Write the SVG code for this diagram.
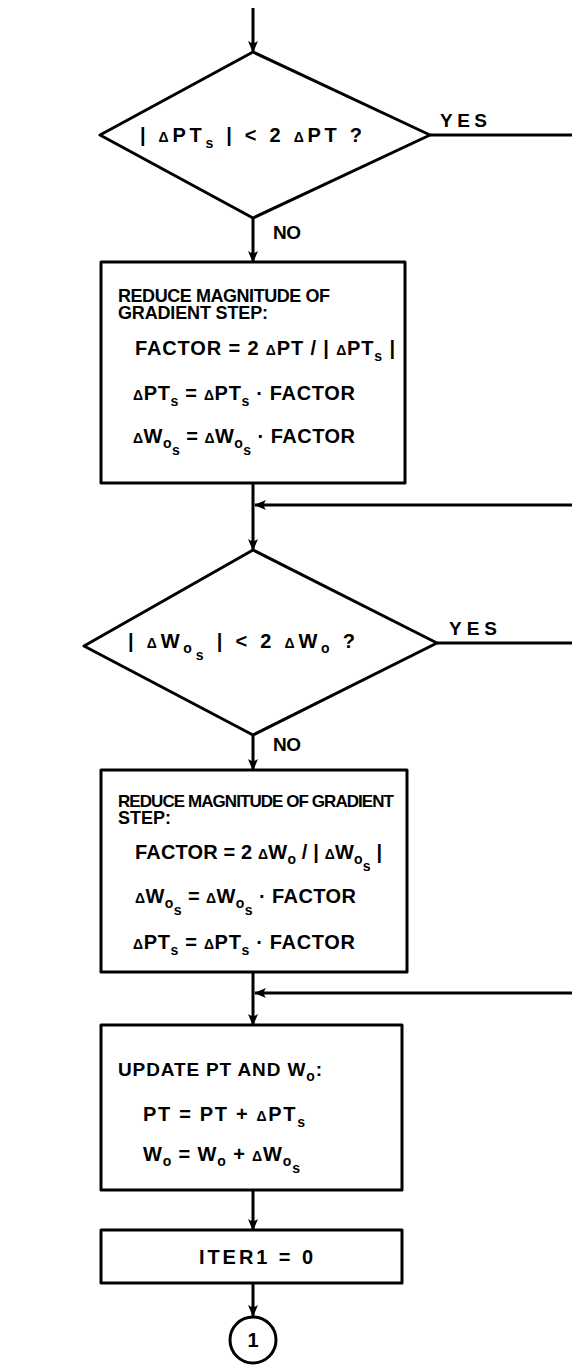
<svg xmlns="http://www.w3.org/2000/svg" width="572" height="1372" viewBox="0 0 572 1372">
<style>
.shape{fill:#fff;stroke:#000;stroke-width:3;stroke-linejoin:round}
.ln{fill:none;stroke:#000;stroke-width:3}
.t{font-family:"Liberation Sans",Arial,sans-serif;font-weight:bold;font-size:20px;fill:#000}
.h{font-size:18px}
.h2{font-size:17px}
.yn{font-size:19px}
.s{font-size:14px}
.d{font-size:14px}
</style>
<defs>
<marker id="ah" viewBox="0 0 12 12" refX="11" refY="6" markerWidth="12" markerHeight="12" markerUnits="userSpaceOnUse" orient="auto">
<path d="M0,1 Q4,6 0,11 L12,6 Z" fill="#000"/>
</marker>
</defs>
<rect width="572" height="1372" fill="#fff"/>
<g id="connectors">
<line class="ln" x1="253" y1="8" x2="253" y2="52" marker-end="url(#ah)"/>
<line class="ln" x1="253" y1="218" x2="253" y2="262" marker-end="url(#ah)"/>
<line class="ln" x1="430" y1="135" x2="572" y2="135"/>
<line class="ln" x1="253" y1="483" x2="253" y2="550" marker-end="url(#ah)"/>
<line class="ln" x1="572" y1="505" x2="255" y2="505" marker-end="url(#ah)"/>
<line class="ln" x1="253" y1="735" x2="253" y2="770" marker-end="url(#ah)"/>
<line class="ln" x1="437" y1="643" x2="572" y2="643"/>
<line class="ln" x1="253" y1="972" x2="253" y2="1025" marker-end="url(#ah)"/>
<line class="ln" x1="572" y1="993" x2="255" y2="993" marker-end="url(#ah)"/>
<line class="ln" x1="253" y1="1190" x2="253" y2="1230" marker-end="url(#ah)"/>
<line class="ln" x1="253" y1="1283" x2="253" y2="1316" marker-end="url(#ah)"/>
<text class="t yn" x="440" y="127" textLength="47" lengthAdjust="spacing">YES</text>
<text class="t yn" x="273" y="239" textLength="28" lengthAdjust="spacing">NO</text>
<text class="t yn" x="449" y="635" textLength="48" lengthAdjust="spacing">YES</text>
<text class="t yn" x="273" y="751" textLength="28" lengthAdjust="spacing">NO</text>
</g>
<g id="decision1">
<polygon class="shape" points="253,52 430,135 253,218 100,135"/>
<text class="t" x="140" y="142" textLength="222" lengthAdjust="spacing">| <tspan class="d">Δ</tspan>PT<tspan class="s" dy="6">s</tspan><tspan dy="-6"> | &lt; 2 </tspan><tspan class="d">Δ</tspan>PT ?</text>
</g>
<g id="box1">
<rect class="shape" x="101" y="262" width="304" height="221"/>
<text class="t h" x="118" y="302" textLength="212" lengthAdjust="spacing">REDUCE MAGNITUDE OF</text>
<text class="t h" x="118" y="319" textLength="150" lengthAdjust="spacing">GRADIENT STEP:</text>
<text class="t" x="135" y="355" textLength="260" lengthAdjust="spacing">FACTOR = 2 <tspan class="d">Δ</tspan>PT / | <tspan class="d">Δ</tspan>PT<tspan class="s" dy="6">s</tspan><tspan dy="-6"> |</tspan></text>
<text class="t" x="133" y="400" textLength="222" lengthAdjust="spacing"><tspan class="d">Δ</tspan>PT<tspan class="s" dy="6">s</tspan><tspan dy="-6"> = </tspan><tspan class="d">Δ</tspan>PT<tspan class="s" dy="6">s</tspan><tspan dy="-6">  · FACTOR</tspan></text>
<text class="t" x="133" y="443" textLength="222" lengthAdjust="spacing"><tspan class="d">Δ</tspan>W<tspan class="s" dy="5">o</tspan><tspan class="s" dy="7">s</tspan><tspan dy="-12"> = </tspan><tspan class="d">Δ</tspan>W<tspan class="s" dy="5">o</tspan><tspan class="s" dy="7">s</tspan><tspan dy="-12">  · FACTOR</tspan></text>
</g>
<g id="decision2">
<polygon class="shape" points="253,550 437,643 253,735 84,646"/>
<text class="t" x="128" y="648" textLength="227" lengthAdjust="spacing">| <tspan class="d">Δ</tspan>W<tspan class="s" dy="5">o</tspan><tspan class="s" dy="7">s</tspan><tspan dy="-12"> | &lt; 2 </tspan><tspan class="d">Δ</tspan>W<tspan class="s" dy="5">o</tspan><tspan dy="-5"> ?</tspan></text>
</g>
<g id="box2">
<rect class="shape" x="101" y="770" width="306" height="202"/>
<text class="t h2" x="118" y="807" textLength="276" lengthAdjust="spacing">REDUCE MAGNITUDE OF GRADIENT</text>
<text class="t h" x="118" y="824" textLength="53" lengthAdjust="spacing">STEP:</text>
<text class="t" x="135" y="859" textLength="247" lengthAdjust="spacing">FACTOR = 2 <tspan class="d">Δ</tspan>W<tspan class="s" dy="5">o</tspan><tspan dy="-5"> / | </tspan><tspan class="d">Δ</tspan>W<tspan class="s" dy="5">o</tspan><tspan class="s" dy="7">s</tspan><tspan dy="-12"> |</tspan></text>
<text class="t" x="135" y="903" textLength="221" lengthAdjust="spacing"><tspan class="d">Δ</tspan>W<tspan class="s" dy="5">o</tspan><tspan class="s" dy="7">s</tspan><tspan dy="-12"> = </tspan><tspan class="d">Δ</tspan>W<tspan class="s" dy="5">o</tspan><tspan class="s" dy="7">s</tspan><tspan dy="-12">  · FACTOR</tspan></text>
<text class="t" x="133" y="949" textLength="222" lengthAdjust="spacing"><tspan class="d">Δ</tspan>PT<tspan class="s" dy="6">s</tspan><tspan dy="-6"> = </tspan><tspan class="d">Δ</tspan>PT<tspan class="s" dy="6">s</tspan><tspan dy="-6">  · FACTOR</tspan></text>
</g>
<g id="box3">
<rect class="shape" x="101" y="1025" width="301" height="165"/>
<text class="t" x="118" y="1076" textLength="204" lengthAdjust="spacing" style="font-size:19px">UPDATE PT AND W<tspan class="s" dy="5">o</tspan><tspan dy="-5">:</tspan></text>
<text class="t" x="143" y="1121" textLength="162" lengthAdjust="spacing">PT = PT + <tspan class="d">Δ</tspan>PT<tspan class="s" dy="6">s</tspan></text>
<text class="t" x="143" y="1161" textLength="157" lengthAdjust="spacing">W<tspan class="s" dy="5">o</tspan><tspan dy="-5"> = W</tspan><tspan class="s" dy="5">o</tspan><tspan dy="-5"> + </tspan><tspan class="d">Δ</tspan>W<tspan class="s" dy="5">o</tspan><tspan class="s" dy="7">s</tspan></text>
</g>
<g id="box4">
<rect class="shape" x="101" y="1230" width="301" height="53"/>
<text class="t" x="199" y="1264" textLength="114" lengthAdjust="spacing">ITER1 = 0</text>
</g>
<g id="connector1">
<circle class="shape" cx="253" cy="1340" r="23"/>
<text class="t" x="253" y="1347" text-anchor="middle">1</text>
</g>
</svg>
